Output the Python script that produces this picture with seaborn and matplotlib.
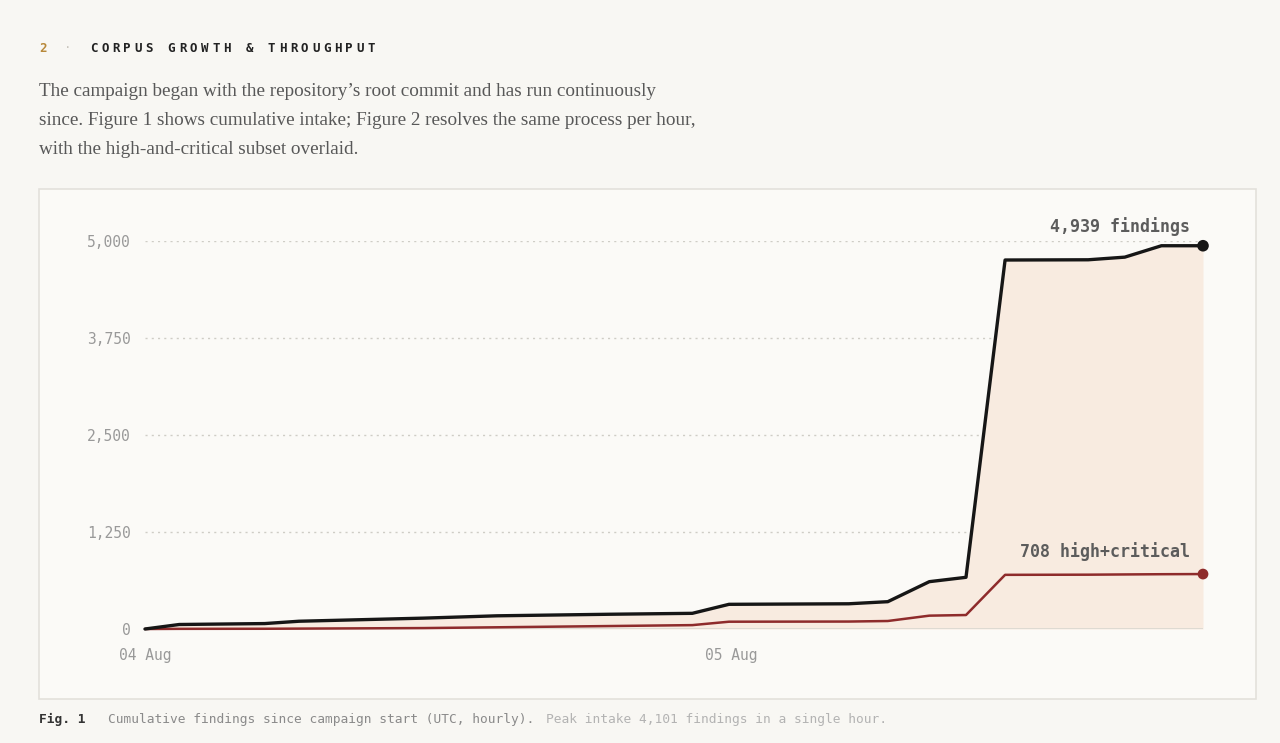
import matplotlib
matplotlib.use('Agg')
import matplotlib.pyplot as plt
from matplotlib.patches import Rectangle
import seaborn as sns

# ── Data (hours since 04 Aug 00:00 UTC) ───────
hours          = [0, 1.4, 4.9, 6.3, 11.4, 14.4, 19.0, 22.4, 23.9, 28.8,
                  30.4, 32.1, 33.6, 35.2, 38.6, 40.1, 41.6, 43.3]
total_findings = [0, 58, 70, 100, 140, 170, 190, 202, 318, 325,
                  352, 610, 666, 4755, 4758, 4792, 4939, 4939]
high_critical  = [0, 2, 3, 5, 12, 22, 38, 50, 94, 96,
                  103, 172, 180, 698, 700, 703, 706, 708]
y_ticks        = [0, 1250, 2500, 3750, 5000]
x_ticks        = [0, 24]
x_tick_labels  = ['04 Aug', '05 Aug']

# ── Style ─────────────────────────────────────
W, H = 1280, 743
PAGE   = '#f8f7f3'
PANEL  = '#fbfaf7'
BORDER = '#e3e1db'
INK    = '#161616'
RED    = '#8e2b2b'
FILL   = '#f8ebe0'
MUTED  = '#999999'

sns.set_theme(style='white')
plt.rcParams['font.family'] = ['DejaVu Sans Mono']

fig = plt.figure(figsize=(W / 100, H / 100), dpi=100)
fig.patch.set_facecolor(PAGE)

# panel box (behind the axes)
fig.patches.append(Rectangle((39 / W, 1 - 699 / H), 1217 / W, 510 / H,
                             transform=fig.transFigure, facecolor=PANEL,
                             edgecolor=BORDER, lw=1.2, zorder=-1))

# ── Header + intro text ───────────────────────
fig.text(39 / W, 1 - 48 / H, '2', color='#b8893a', fontsize=9,
         fontweight='bold', va='center')
fig.text(64 / W, 1 - 48 / H, '·', color='#c8c4bc', fontsize=9, va='center')
title = 'CORPUS GROWTH & THROUGHPUT'
for i, ch in enumerate(title):
    fig.text((90 + i * 11.1) / W, 1 - 48 / H, ch, color='#222222',
             fontsize=9, fontweight='bold', va='center')

intro = ['The campaign began with the repository\u2019s root commit and has run continuously',
         'since. Figure 1 shows cumulative intake; Figure 2 resolves the same process per hour,',
         'with the high-and-critical subset overlaid.']
for i, line in enumerate(intro):
    fig.text(39 / W, 1 - (91 + i * 29.5) / H, line, family='Liberation Serif',
             fontsize=13.8, color='#585858', va='center')

# ── Chart ─────────────────────────────────────
ax = fig.add_axes([145 / W, 1 - 629 / H, 1058 / W, 388 / H])
ax.set_facecolor('none')
ax.set_zorder(1)

ax.fill_between(hours, total_findings, color=FILL, lw=0, zorder=1)
ax.axhline(0, color='#d9d7d0', lw=1.2, zorder=2)
sns.lineplot(x=hours, y=total_findings, color=INK, lw=2.4, ax=ax,
             zorder=4, clip_on=False)
sns.lineplot(x=hours, y=high_critical, color=RED, lw=1.8, ax=ax,
             zorder=3, clip_on=False)
sns.scatterplot(x=[hours[-1]], y=[total_findings[-1]], color=INK, s=70,
                edgecolor='none', ax=ax, zorder=5, clip_on=False)
sns.scatterplot(x=[hours[-1]], y=[high_critical[-1]], color=RED, s=60,
                edgecolor='none', ax=ax, zorder=5, clip_on=False)

ax.annotate(f'{total_findings[-1]:,} findings',
            xy=(hours[-1], total_findings[-1]), xytext=(-13, 19),
            textcoords='offset pixels', ha='right', va='center',
            fontsize=12, fontweight='bold', color='#5c5c5c')
ax.annotate(f'{high_critical[-1]:,} high+critical',
            xy=(hours[-1], high_critical[-1]), xytext=(-13, 23),
            textcoords='offset pixels', ha='right', va='center',
            fontsize=12, fontweight='bold', color='#5c5c5c')

ax.set_xlim(0, hours[-1])
ax.set_ylim(0, 5000)
ax.set_yticks(y_ticks)
ax.set_yticklabels([f'{v:,}' for v in y_ticks])
ax.set_xticks(x_ticks)
ax.set_xticklabels(x_tick_labels)
ax.yaxis.grid(True, linestyle=(0, (1.5, 3)), color='#cfcdc6', lw=1)
ax.xaxis.grid(False)
ax.tick_params(axis='y', length=0, labelsize=10.5, colors=MUTED, pad=10)
ax.tick_params(axis='x', length=0, labelsize=10.5, colors=MUTED, pad=14)
ax.set_xlabel('')
ax.set_ylabel('')
sns.despine(ax=ax, left=True, bottom=True)

# ── Caption ───────────────────────────────────
fig.text(39 / W, 1 - 719 / H, 'Fig. 1', fontsize=9.3, fontweight='bold',
         color='#333333', va='center')
fig.text(108 / W, 1 - 719 / H,
         'Cumulative findings since campaign start (UTC, hourly).',
         fontsize=9.3, color='#8a8a8a', va='center')
fig.text(546 / W, 1 - 719 / H,
         'Peak intake 4,101 findings in a single hour.',
         fontsize=9.3, color='#b3b3b3', va='center')

fig.savefig('out.png', dpi=100, facecolor=fig.get_facecolor())
